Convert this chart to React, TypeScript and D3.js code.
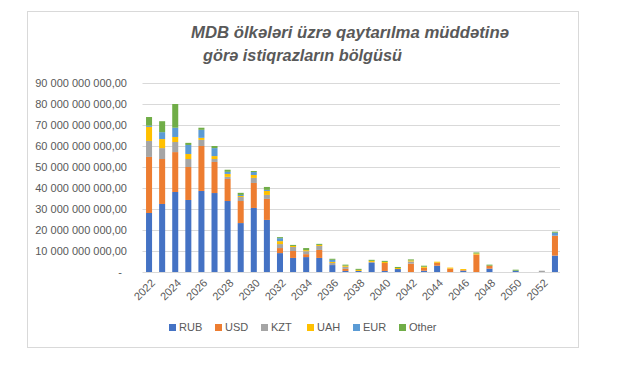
import React from "react";
import * as d3 from "d3";

// values in billions (10^9)
const years = [
  "2022", "2023", "2024", "2025", "2026", "2027", "2028", "2029", "2030", "2031",
  "2032", "2033", "2034", "2035", "2036", "2037", "2038", "2039", "2040", "2041",
  "2042", "2043", "2044", "2045", "2046", "2047", "2048", "2049", "2050", "2051",
  "2052", "2053",
];
const rub = [28.1, 32.4, 38.1, 34.3, 38.6, 37.6, 33.8, 23.3, 30.5, 24.8, 9.0, 6.7, 7.1, 6.7, 3.3, 0.5, 0.5, 4.3, 0.5, 1.4, 0, 0.6, 3.0, 0, 0.6, 0, 1.6, 0, 0.6, 0, 0, 7.8];
const usd = [26.7, 21.4, 19.0, 15.7, 21.4, 14.8, 10.5, 10.5, 11.9, 10.0, 2.4, 3.3, 1.4, 3.8, 0, 1.0, 0, 0, 3.8, 0, 4.0, 1.4, 1.4, 1.6, 0.3, 8.3, 1.4, 0, 0, 0, 0, 9.5];
const kzt = [7.6, 5.2, 4.8, 3.8, 2.9, 1.4, 1.0, 1.9, 2.4, 1.9, 1.9, 1.9, 1.4, 1.9, 1.0, 1.0, 0, 0.5, 0, 0, 1.0, 0, 0, 0, 0, 0, 0, 0, 0, 0, 0.6, 0];
const uah = [6.7, 4.3, 2.4, 2.4, 1.0, 1.4, 1.4, 0.5, 1.4, 1.9, 1.4, 0.5, 0.5, 0.5, 0.5, 0.5, 0.5, 0.5, 0.5, 0.5, 0.5, 0.5, 0.5, 0.5, 0.5, 0.5, 0, 0, 0, 0, 0, 0];
const eur = [0.6, 3.3, 4.4, 4.3, 3.8, 3.8, 1.0, 0.5, 1.4, 0.5, 1.4, 0, 0, 0, 1.0, 0, 0, 0, 0, 0, 0, 0, 0, 0, 0, 0, 0, 0, 0, 0, 0, 1.4];
const other = [4.1, 5.2, 11.3, 1.0, 1.0, 1.0, 1.0, 1.0, 0.5, 1.4, 0.5, 0.5, 1.0, 0.5, 0.5, 0.5, 0.5, 0.5, 0.5, 0.5, 0.5, 0.5, 0, 0, 0, 0.5, 0.5, 0, 0.5, 0, 0, 0.5];

const seriesNames = ["RUB", "USD", "KZT", "UAH", "EUR", "Other"];
const seriesColors = ["#4472C4", "#ED7D31", "#A5A5A5", "#FFC000", "#5B9BD5", "#70AD47"];
const yTicks = [0, 10, 20, 30, 40, 50, 60, 70, 80, 90];
const titleLines = ["MDB ölkələri üzrə qaytarılma müddətinə", "görə istiqrazların bölgüsü"];

const FONT = "'Liberation Sans', Arial, sans-serif";
const TEXT = "#595959";
const GRID = "#d9d9d9";

export default function App() {
  const width = 640;
  const height = 373;
  const plot = { left: 142.5, right: 561.5, top: 83, bottom: 272 };

  const rows = years.map((y, i) => ({
    year: y,
    RUB: rub[i], USD: usd[i], KZT: kzt[i], UAH: uah[i], EUR: eur[i], Other: other[i],
  }));
  const stacked = d3.stack<any>().keys(seriesNames)(rows);

  const x = d3.scaleBand<string>()
    .domain(years)
    .range([plot.left, plot.right])
    .paddingInner(0.54)
    .paddingOuter(0.27);
  const y = d3.scaleLinear().domain([0, 90]).range([plot.bottom, plot.top]);

  const fmt = (v: number) =>
    v === 0 ? "-" : `${v} 000 000 000,00`;

  return (
    <svg width={width} height={height} style={{ position: "absolute", left: 0, top: 0 }} fontFamily={FONT}>
      <rect x={0} y={0} width={width} height={height} fill="#fff" />
      <rect x={27.5} y={11.5} width={551} height={336} fill="#fff" stroke={GRID} strokeWidth={1} />

      {/* title */}
      {titleLines.map((t, i) => (
        <text key={t} x={i === 0 ? 191 : 203} y={i === 0 ? 38 : 61}
          fontSize={17} fontWeight="bold" fontStyle="italic" fill={TEXT}
          textLength={i === 0 ? 318 : 199} lengthAdjust="spacingAndGlyphs">
          {t}
        </text>
      ))}

      {/* gridlines + y labels */}
      {yTicks.map((t) => (
        <g key={t}>
          <line x1={plot.left} x2={plot.right - 1.5} y1={Math.round(y(t)) + 0.5} y2={Math.round(y(t)) + 0.5}
            stroke={GRID} strokeWidth={1} />
          <text x={t === 0 ? 122 : 127} y={y(t)} dy="0.35em" textAnchor="end" fontSize={11} fill={TEXT}>
            {fmt(t)}
          </text>
        </g>
      ))}

      {/* bars */}
      {stacked.map((s, si) => (
        <g key={s.key} fill={seriesColors[si]}>
          {s.map((d, i) => {
            const h = y(d[0]) - y(d[1]);
            if (h <= 0) return null;
            return (
              <rect key={i} x={x(years[i])} y={y(d[1])} width={x.bandwidth()} height={h} />
            );
          })}
        </g>
      ))}

      {/* x labels */}
      {years.filter((_, i) => i % 2 === 0).map((yr) => {
        const cx = (x(yr) as number) + x.bandwidth() / 2 + 4;
        const cy = 281;
        return (
          <text key={yr} x={cx} y={cy} dy="0.35em" textAnchor="end" fontSize={11} fill={TEXT}
            transform={`rotate(-45 ${cx} ${cy})`}>
            {yr}
          </text>
        );
      })}

      {/* legend */}
      {seriesNames.map((n, i) => {
        const lx = 169 + i * 46;
        return (
          <g key={n}>
            <rect x={lx} y={324} width={7} height={7} fill={seriesColors[i]} />
            <text x={lx + 10} y={331} fontSize={11} fill={TEXT}>{n}</text>
          </g>
        );
      })}
    </svg>
  );
}
